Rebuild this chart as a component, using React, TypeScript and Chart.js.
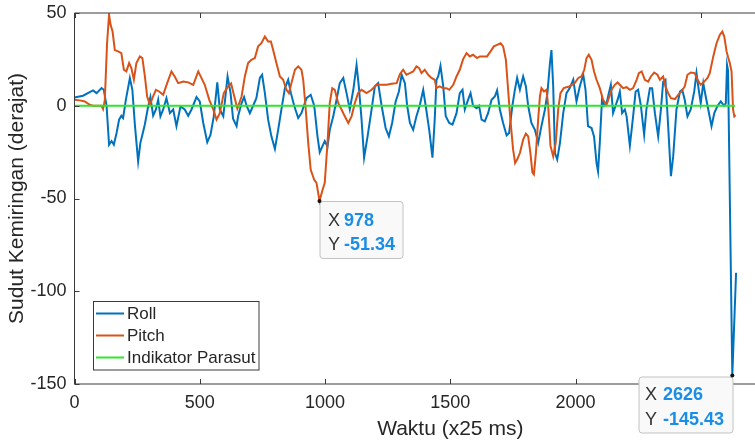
import React, { useEffect, useRef } from 'react';
import { Chart, registerables } from 'chart.js';

Chart.register(...registerables);

// ---------- DATA ----------
const rollX = [0, 34, 74, 88, 108, 117, 128, 138, 148, 157, 168, 178, 187, 194, 205, 221, 231, 241, 254, 263, 271, 281, 294, 303, 314, 325, 334, 343, 354, 367, 381, 394, 407, 423, 440, 454, 467, 487, 500, 514, 530, 543, 556, 570, 580, 594, 611, 623, 633, 647, 653, 667, 677, 687, 700, 713, 726, 740, 749, 760, 773, 786, 800, 813, 826, 840, 853, 864, 877, 893, 906, 926, 943, 957, 970, 979, 989, 999, 1010, 1019, 1033, 1046, 1059, 1073, 1086, 1099, 1113, 1126, 1135, 1146, 1156, 1170, 1186, 1199, 1212, 1226, 1242, 1255, 1268, 1282, 1295, 1306, 1319, 1328, 1339, 1352, 1365, 1378, 1392, 1402, 1416, 1429, 1438, 1445, 1452, 1461, 1472, 1482, 1496, 1509, 1525, 1538, 1549, 1558, 1571, 1581, 1591, 1605, 1615, 1625, 1638, 1651, 1665, 1678, 1687, 1698, 1711, 1725, 1735, 1748, 1758, 1767, 1778, 1791, 1802, 1811, 1824, 1838, 1851, 1864, 1878, 1888, 1898, 1904, 1911, 1918, 1927, 1938, 1951, 1964, 1977, 1991, 2004, 2017, 2031, 2040, 2050, 2064, 2074, 2084, 2090, 2097, 2106, 2114, 2124, 2133, 2141, 2150, 2160, 2170, 2177, 2186, 2197, 2204, 2217, 2230, 2240, 2250, 2261, 2274, 2283, 2297, 2306, 2317, 2330, 2341, 2350, 2359, 2367, 2381, 2390, 2403, 2417, 2426, 2436, 2447, 2460, 2474, 2483, 2492, 2500, 2510, 2516, 2530, 2543, 2554, 2567, 2580, 2593, 2600, 2605, 2609, 2626, 2641];
const rollY = [4.5, 5.4, 8.3, 6.8, 9.5, 8.6, 0, -21, -19, -21, -14.7, -7.5, -5.4, -6.6, 3.2, 14.9, 8.6, -10.2, -30, -20, -15.6, -10, -0.4, 4.7, -5.4, -2, 3.2, -5.7, -2, 4.1, -4, -2, -11, -0.4, -2, -5.4, -2, 4.7, 2.3, -9.3, -19.7, -15.6, -5.7, 12.6, -2, -5.7, 15.8, 6.8, -7, -11, -5.7, 1.4, 4.7, 0, -4, 0, 4.1, 15, 16.7, 6.8, -7.5, -16.5, -23.3, -13, -2, 9.5, 14, 6.8, 0, -6.6, -4, 4.1, 5.9, 0, -16.5, -25, -22, -19, -22, -13, -5.7, 3.2, 12.2, 15, 6.8, -2, 8.6, 22, 10.4, -7.5, -28, -16.5, -2, 10.4, 12.2, 0, -12, -16.5, -9.3, 2.3, 7.7, 16.7, 12.2, 0, -9.3, -13, -5.7, 0, 8.6, 0, -13, -28, -7.5, 14, 15.8, 21.5, 10.4, -5.7, -9.3, -10.2, -4, 6.8, 8.6, -2, 3.2, 6.8, 0, -1.3, 0, -7.5, -8.4, -4, 3.2, 5, 8.3, -2, -9.3, -16, -14.7, 0, 8.6, 15, 8.6, 15.8, 10.4, 0, -9.3, -13, -20, -11, -2, 6.8, 23, 30, 10.4, -25.5, -29, -20, -4, 6.8, 9.5, 14, 2.3, 10.4, 16.7, 8.6, -11, -12, -16.5, -30.9, -35.4, -20, 4.1, 0, 1.4, 6.8, 11.3, -4, 0, 4.1, 7.7, -4, -2, -5.7, -21.5, -5.7, 7.7, 8.6, 0, -15.6, -2, 9.5, 9.5, -4, -16.5, -2, 13, 14, -4, -38, -27.3, -2, 7.7, 8.6, 3.2, -5.7, -2, 7.7, 17.6, 8.6, 1.4, 12.2, 7.7, -2, -11, -4, 0, 2.3, 0, 1.4, 22, 19, -145.43, -90];

const pitchX = [0, 21, 41, 61, 74, 88, 108, 114, 121, 130, 138, 144, 152, 161, 174, 187, 197, 207, 218, 227, 237, 247, 261, 271, 281, 290, 301, 311, 325, 338, 354, 370, 387, 400, 414, 434, 454, 474, 494, 507, 520, 538, 554, 567, 580, 596, 613, 625, 638, 650, 667, 680, 693, 706, 720, 733, 746, 760, 773, 784, 793, 806, 820, 833, 846, 856, 866, 880, 893, 906, 913, 922, 933, 943, 957, 966, 975, 978, 989, 999, 1010, 1019, 1029, 1039, 1053, 1066, 1079, 1093, 1106, 1119, 1132, 1146, 1166, 1186, 1206, 1226, 1246, 1266, 1286, 1299, 1312, 1325, 1339, 1352, 1365, 1376, 1385, 1398, 1412, 1425, 1438, 1445, 1458, 1472, 1485, 1496, 1512, 1525, 1538, 1551, 1565, 1578, 1591, 1607, 1618, 1634, 1647, 1661, 1674, 1687, 1701, 1711, 1722, 1731, 1740, 1751, 1759, 1767, 1778, 1791, 1802, 1811, 1820, 1828, 1834, 1842, 1851, 1858, 1864, 1874, 1884, 1891, 1900, 1911, 1921, 1931, 1940, 1953, 1964, 1975, 1997, 2011, 2024, 2035, 2044, 2053, 2064, 2074, 2084, 2097, 2110, 2124, 2133, 2144, 2157, 2168, 2177, 2190, 2204, 2217, 2230, 2244, 2253, 2264, 2277, 2290, 2301, 2314, 2327, 2337, 2350, 2359, 2370, 2381, 2397, 2410, 2423, 2436, 2447, 2460, 2476, 2487, 2500, 2514, 2527, 2536, 2550, 2563, 2576, 2586, 2594, 2603, 2610, 2616, 2623, 2629, 2634, 2639];
const pitchY = [3.2, 2.9, 2.3, 0.5, 0, 0, 0, -1.8, 3, 33.7, 49, 43.6, 40, 30, 29.3, 28.4, 19.4, 18.5, 23, 20.3, 14, 23, 26.6, 25.7, 15.8, 5, 0.5, 4.1, 8.6, 7.7, 5.9, 12.2, 18.5, 15.8, 12.2, 13, 12.6, 11.3, 18.5, 14.9, 11.3, 3.2, -2, -7.5, -4, 6.8, 10.4, 12, 5, -1.5, 5, 15.8, 23, 24.8, 25.7, 32, 33.7, 37.3, 34.6, 34.6, 30, 23, 15.8, 14, 8.6, 6.8, 12.2, 19.4, 21.2, 19.4, 14, 0, -20, -34.5, -39.9, -41.6, -48.8, -51.34, -46, -41.6, -20, 1.4, 9.5, 8.6, 1.4, -2, -5.7, -9.3, -5.7, 1.4, 6.8, 8.6, 6.8, 8.6, 11.3, 11.3, 11.3, 11.8, 12.2, 17, 19.4, 16.7, 17.6, 18.5, 21.2, 20.3, 17.6, 19.4, 16.7, 15, 14, 9.5, 10.4, 9.5, 9.5, 8.6, 11.3, 15.8, 19.4, 25, 28.4, 26.6, 27.5, 25.7, 26.6, 26.6, 26.6, 29.3, 32, 32.8, 33.7, 32, 24.8, 8.6, -7.5, -23.7, -30.9, -29, -25.5, -18.3, -15, -16.5, -25.5, -36, -37, -25.5, -7.5, 5, 9.5, 7.7, 8.6, 0, -21.5, -27.3, -20, -2, 6.8, 9.5, 10, 10.4, 12.2, 15, 15.8, 19.4, 25.7, 27.5, 24.8, 18.5, 14, 9.5, 3.2, 0.5, 4.1, 8.6, 11.3, 12.6, 11.3, 9.5, 10, 8.6, 9.5, 14, 17.6, 18.5, 14, 13, 15.8, 17.9, 16.7, 14, 15.8, 10.4, 6.8, 4.1, 3.6, 5.9, 7.7, 10.4, 16.7, 17.9, 17.6, 14, 11.3, 13, 15, 17.6, 26.6, 33.7, 38.2, 40, 37.3, 29.3, 25.7, 23, 18.5, -2, -5.7, -5];

const indicatorX = [0, 2637];
const indicatorY = [0, 0];

const xTicks = [0, 500, 1000, 1500, 2000, 2500, 3000];
const yTicks = [-150, -100, -50, 0, 50];

const seriesNames = ['Roll', 'Pitch', 'Indikator Parasut'];
const tipPoints = [
  { x: 978, y: -51.34, label: '978', value: '-51.34' },
  { x: 2626, y: -145.43, label: '2626', value: '-145.43' },
];

// ---------- STYLE ----------
const ROLL_COLOR = '#0072BD';
const PITCH_COLOR = '#D95319';
const IND_COLOR = 'rgb(45,230,45)';
const AXIS_COLOR = '#262626';
const FONT = '"Liberation Sans", Arial, Helvetica, sans-serif';
const CANVAS_W = 860;
const CANVAS_H = 441;

const toPts = (xs: number[], ys: number[]) => xs.map((x, i) => ({ x, y: ys[i] }));

const decor = {
  id: 'matlabDecor',
  afterDatasetsDraw(chart: any) {
    const { ctx, chartArea: a, scales } = chart;
    ctx.save();
    ctx.strokeStyle = '#3a3a3a';
    ctx.lineWidth = 1;
    ctx.beginPath();
    ctx.moveTo(a.left, a.top);
    ctx.lineTo(a.right, a.top);
    ctx.lineTo(a.right, a.bottom);
    ctx.lineTo(a.left, a.bottom);
    ctx.closePath();
    ctx.stroke();
    const tl = 5;
    ctx.beginPath();
    xTicks.forEach((t) => {
      const px = Math.round(scales.x.getPixelForValue(t)) + 0.5;
      ctx.moveTo(px, a.bottom);
      ctx.lineTo(px, a.bottom - tl);
      ctx.moveTo(px, a.top);
      ctx.lineTo(px, a.top + tl);
    });
    yTicks.forEach((t) => {
      const py = Math.round(scales.y.getPixelForValue(t)) + 0.5;
      ctx.moveTo(a.left, py);
      ctx.lineTo(a.left + tl, py);
      ctx.moveTo(a.right, py);
      ctx.lineTo(a.right - tl, py);
    });
    ctx.stroke();
    ctx.restore();
  },
  afterDraw(chart: any) {
    const { ctx, chartArea: a, scales } = chart;
    ctx.save();
    // axis titles
    ctx.fillStyle = AXIS_COLOR;
    ctx.font = `21px ${FONT}`;
    ctx.textAlign = 'center';
    ctx.textBaseline = 'alphabetic';
    ctx.fillText('Waktu (x25 ms)', (a.left + a.right) / 2, 435);
    ctx.save();
    ctx.translate(23, (a.top + a.bottom) / 2);
    ctx.rotate(-Math.PI / 2);
    ctx.fillText('Sudut Kemiringan (derajat)', 0, 0);
    ctx.restore();

    // legend
    const lx = 93.5, ly = 301.5, lw = 165.5, lh = 68.5;
    ctx.fillStyle = '#ffffff';
    ctx.fillRect(lx, ly, lw, lh);
    ctx.strokeStyle = '#3a3a3a';
    ctx.lineWidth = 1;
    ctx.strokeRect(lx, ly, lw, lh);
    const colors = [ROLL_COLOR, PITCH_COLOR, IND_COLOR];
    const rows = [313.5, 335.5, 357.5];
    ctx.font = `17px ${FONT}`;
    ctx.textAlign = 'left';
    ctx.textBaseline = 'middle';
    seriesNames.forEach((n, i) => {
      ctx.strokeStyle = colors[i];
      ctx.lineWidth = 2;
      ctx.beginPath();
      ctx.moveTo(96, rows[i]);
      ctx.lineTo(124, rows[i]);
      ctx.stroke();
      ctx.fillStyle = AXIS_COLOR;
      ctx.fillText(n, 127, rows[i] + 1);
    });

    // data tips
    const boxes = [
      { bx: 320, by: 201.5, bw: 83, bh: 57, lx: 328, vx: 344, r1: 225.5, r2: 250 },
      { bx: 639, by: 377, bw: 94, bh: 56, lx: 645, vx: 663, r1: 400, r2: 424.5 },
    ];
    tipPoints.forEach((tp, i) => {
      const b = boxes[i];
      const px = scales.x.getPixelForValue(tp.x);
      const py = scales.y.getPixelForValue(tp.y);
      ctx.beginPath();
      const r = 3;
      ctx.moveTo(b.bx + r, b.by);
      ctx.lineTo(b.bx + b.bw - r, b.by);
      ctx.quadraticCurveTo(b.bx + b.bw, b.by, b.bx + b.bw, b.by + r);
      ctx.lineTo(b.bx + b.bw, b.by + b.bh - r);
      ctx.quadraticCurveTo(b.bx + b.bw, b.by + b.bh, b.bx + b.bw - r, b.by + b.bh);
      ctx.lineTo(b.bx + r, b.by + b.bh);
      ctx.quadraticCurveTo(b.bx, b.by + b.bh, b.bx, b.by + b.bh - r);
      ctx.lineTo(b.bx, b.by + r);
      ctx.quadraticCurveTo(b.bx, b.by, b.bx + r, b.by);
      ctx.closePath();
      ctx.fillStyle = '#f9f9f9';
      ctx.fill();
      ctx.strokeStyle = '#c2c2c2';
      ctx.lineWidth = 1;
      ctx.stroke();
      ctx.textAlign = 'left';
      ctx.textBaseline = 'alphabetic';
      ctx.font = `18px ${FONT}`;
      ctx.fillStyle = '#333333';
      ctx.fillText('X', b.lx, b.r1);
      ctx.fillText('Y', b.lx, b.r2);
      ctx.font = `bold 18px ${FONT}`;
      ctx.fillStyle = '#1a8ee6';
      ctx.fillText(tp.label, b.vx, b.r1);
      ctx.fillText(tp.value, b.vx, b.r2);
      ctx.fillStyle = '#111111';
      ctx.beginPath();
      ctx.arc(px, py, 2, 0, Math.PI * 2);
      ctx.fill();
    });
    ctx.restore();
  },
};

export default function App() {
  const ref = useRef<HTMLCanvasElement | null>(null);
  useEffect(() => {
    if (!ref.current) return;
    const chart = new Chart(ref.current, {
      type: 'line',
      data: {
        datasets: [
          { label: seriesNames[0], data: toPts(rollX, rollY), borderColor: ROLL_COLOR, borderWidth: 2, pointRadius: 0, tension: 0, order: 2 },
          { label: seriesNames[1], data: toPts(pitchX, pitchY), borderColor: PITCH_COLOR, borderWidth: 2, pointRadius: 0, tension: 0, order: 1 },
          { label: seriesNames[2], data: toPts(indicatorX, indicatorY), borderColor: IND_COLOR, borderWidth: 2.2, pointRadius: 0, tension: 0, order: 0 },
        ],
      },
      options: {
        responsive: false,
        animation: false,
        layout: { padding: { top: 13, right: CANVAS_W - 826, left: 0, bottom: 0 } },
        plugins: { legend: { display: false }, tooltip: { enabled: false } },
        scales: {
          x: {
            type: 'linear',
            min: 0,
            max: 3000,
            afterFit: (s: any) => { s.height = CANVAS_H - 384; s.paddingLeft = 0; s.paddingRight = 0; },
            afterBuildTicks: (s: any) => { s.ticks = xTicks.map((v) => ({ value: v })); },
            grid: { display: false, drawTicks: false },
            border: { display: false },
            ticks: { padding: 8, color: AXIS_COLOR, font: { family: FONT, size: 18 }, maxRotation: 0, autoSkip: false, callback: (v: any) => String(v) },
          },
          y: {
            type: 'linear',
            min: -150,
            max: 50,
            afterFit: (s: any) => { s.width = 74.5; s.paddingTop = 0; s.paddingBottom = 0; },
            afterBuildTicks: (s: any) => { s.ticks = yTicks.map((v) => ({ value: v })); },
            grid: { display: false, drawTicks: false },
            border: { display: false },
            ticks: { padding: 8, color: AXIS_COLOR, font: { family: FONT, size: 18 }, autoSkip: false, callback: (v: any) => String(v) },
          },
        },
      },
      plugins: [decor],
    });
    return () => chart.destroy();
  }, []);
  return (
    <div style={{ position: 'fixed', left: 0, top: 0, width: 755, height: 441, overflow: 'hidden', background: '#fff' }}>
      <canvas ref={ref} width={CANVAS_W} height={CANVAS_H} style={{ display: 'block', width: CANVAS_W, height: CANVAS_H }} />
    </div>
  );
}
